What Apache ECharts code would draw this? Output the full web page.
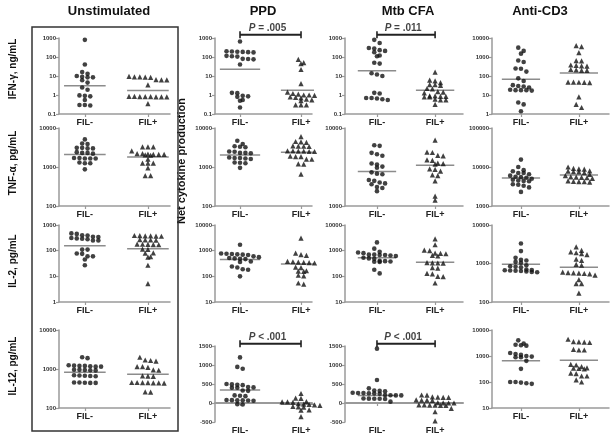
<!DOCTYPE html>
<html><head><meta charset="utf-8">
<script src="https://cdn.jsdelivr.net/npm/echarts@6/dist/echarts.min.js"></script>
<style>html,body{margin:0;padding:0;background:#fff}#c{width:614px;height:436px}</style>
</head><body><div id="c"></div>
<script>
// ---------- DATA ----------
const stimuli = ['Unstimulated', 'PPD', 'Mtb CFA', 'Anti-CD3'];
const cytokines = ['IFN-γ, ng/mL', 'TNF-α, pg/mL', 'IL-2, pg/mL', 'IL-12, pg/mL'];
const groups = ['FIL-', 'FIL+'];
const sideLabel = 'Net cytokine production';

// y-axis ranges per row (columns: Unstim, PPD, Mtb CFA, Anti-CD3)
const yRangeIfn = [[0.1, 1000], [0.1, 1000], [0.1, 1000], [1, 10000]];
const yRangeTnf = [[100, 10000], [100, 10000], [1000, 10000], [1000, 100000]];
const yRangeIl2 = [[1, 1000], [10, 10000], [10, 10000], [100, 10000]];
const yRangeIl12 = [[100, 10000], [-500, 1500], [-500, 1500], [10, 10000]];
const linearTicks = 500;

// IFN-γ
const ifnUnstimNeg = [800, 40, 16, 13, 10, 9, 8.5, 8.5, 6, 4.5, 2.5, 1.9, 0.95, 0.9, 0.85, 0.55, 0.3, 0.3, 0.28];
const ifnUnstimPos = [9.5, 9, 9, 8.8, 8.5, 6.5, 6.3, 6.2, 3.4, 0.85, 0.85, 0.83, 0.83, 0.82, 0.8, 0.8, 0.8, 0.35];
const ifnPpdNeg = [650, 200, 195, 190, 185, 180, 175, 115, 110, 105, 80, 78, 75, 40, 1.3, 1.25, 0.9, 0.85, 0.8, 0.55, 0.5, 0.22];
const ifnPpdPos = [75, 50, 45, 22, 4, 1.4, 1.2, 1.1, 1.0, 1.0, 0.95, 0.8, 0.75, 0.7, 0.6, 0.55, 0.5, 0.3, 0.3, 0.3];
const ifnMtbNeg = [800, 550, 300, 280, 230, 210, 180, 120, 110, 50, 45, 14, 12, 10, 1.3, 1.2, 0.7, 0.7, 0.65, 0.6, 0.55];
const ifnMtbPos = [16, 6, 5.5, 4.5, 3.5, 3.5, 3.2, 2.2, 2.1, 1.5, 1.4, 1.3, 0.9, 0.9, 0.85, 0.85, 0.8, 0.8, 0.6, 0.55, 0.55, 0.32];
const ifnCd3Neg = [3100, 2100, 1500, 650, 550, 250, 240, 170, 75, 55, 33, 30, 28, 25, 19, 18, 18, 18, 17, 4, 3.2, 1.4];
const ifnCd3Pos = [4000, 3500, 1700, 650, 620, 380, 360, 340, 330, 220, 210, 200, 200, 48, 48, 47, 46, 45, 8, 3.2, 2.2];
const ifnMedians = [[3.1, 1.7], [23, 1.8], [19, 1.77], [67, 145]];

// TNF-α
const tnfUnstimNeg = [5100, 4000, 3900, 3100, 3100, 3000, 3000, 2400, 2300, 2300, 2200, 1700, 1700, 1650, 1650, 1650, 1300, 1250, 1250, 870];
const tnfUnstimPos = [3300, 3300, 3300, 2600, 2200, 2200, 2150, 2100, 2100, 2100, 2050, 2000, 1600, 1250, 1250, 1250, 950, 600, 600];
const tnfPpdNeg = [4700, 3900, 3400, 3300, 3200, 2500, 2450, 2300, 2300, 2250, 1750, 1700, 1700, 1650, 1600, 1300, 1280, 1250, 950];
const tnfPpdPos = [6000, 4500, 4400, 4300, 3500, 3450, 3400, 3350, 2600, 2600, 2550, 2550, 2500, 2500, 1900, 1850, 1850, 1600, 1580, 1200, 1180, 660];
const tnfMtbNeg = [6000, 5900, 4800, 4600, 4400, 3500, 3400, 3200, 3100, 2700, 2600, 2550, 2150, 2100, 2000, 1950, 1900, 1750, 1700, 1550];
const tnfMtbPos = [7000, 4900, 4850, 4450, 4400, 3900, 3850, 3550, 3500, 3450, 3000, 2950, 2800, 2500, 2450, 2100, 1340, 1190];
const tnfCd3Neg = [15500, 10000, 8300, 7800, 7000, 7000, 6500, 6000, 5600, 5500, 5300, 5000, 4700, 4500, 4400, 4300, 3600, 3500, 3300, 3000, 2300];
const tnfCd3Pos = [10000, 9200, 9000, 8800, 8000, 7800, 7600, 7500, 7200, 6500, 6000, 5600, 5500, 5400, 5300, 5100, 4400, 4300, 4200, 4200, 4100];
const tnfMedians = [[2100, 1800], [2030, 2400], [2770, 3330], [5200, 6200]];

// IL-2
const il2UnstimNeg = [470, 450, 400, 390, 350, 340, 310, 300, 290, 280, 250, 250, 110, 110, 78, 75, 60, 60, 45, 27];
const il2UnstimPos = [390, 385, 380, 375, 370, 365, 270, 265, 260, 255, 180, 178, 175, 172, 170, 115, 112, 82, 80, 58, 56, 27, 5.2];
const il2PpdNeg = [1700, 780, 760, 740, 720, 700, 680, 600, 560, 520, 500, 480, 470, 380, 360, 240, 220, 190, 180, 100];
const il2PpdPos = [3100, 800, 700, 650, 380, 370, 360, 350, 340, 330, 230, 220, 165, 160, 155, 110, 105, 55, 50];
const il2MtbNeg = [2100, 1200, 900, 850, 800, 700, 700, 680, 680, 650, 620, 530, 500, 480, 400, 390, 380, 370, 360, 180, 130];
const il2MtbPos = [2900, 1700, 1050, 1000, 800, 780, 760, 650, 620, 340, 335, 330, 325, 220, 210, 130, 125, 100, 98, 55];
const il2Cd3Neg = [3300, 2100, 1400, 1250, 1200, 1100, 1050, 900, 850, 820, 800, 700, 680, 670, 660, 650, 640, 620, 600, 590];
const il2Cd3Pos = [2700, 2200, 2000, 1900, 1800, 1700, 1300, 1200, 950, 900, 600, 580, 570, 560, 550, 540, 500, 380, 300, 300, 170];
const il2Medians = [[157, 120], [450, 300], [530, 350], [960, 800]];

// IL-12
const il12UnstimNeg = [2000, 1900, 1250, 1220, 1200, 1200, 1180, 1150, 1150, 960, 950, 940, 930, 920, 690, 680, 670, 660, 650, 450, 450, 445, 440, 440];
const il12UnstimPos = [2000, 1700, 1650, 1600, 1150, 1150, 1100, 950, 930, 670, 660, 650, 450, 450, 445, 445, 440, 440, 435, 260, 255];
const il12PpdNeg = [1200, 950, 900, 500, 490, 480, 470, 420, 410, 400, 400, 330, 320, 200, 190, 180, 80, 75, 70, 70, 65, 60, -30, -40];
const il12PpdPos = [250, 130, 120, 40, 30, 30, 20, -20, -30, -40, -50, -60, -90, -100, -110, -180, -190, -360];
const il12MtbNeg = [1430, 605, 385, 330, 320, 310, 270, 265, 260, 255, 250, 245, 210, 205, 200, 200, 120, 115, 110, 110, 105, 35];
const il12MtbPos = [210, 205, 160, 155, 150, 150, 80, 75, 75, 70, 10, 5, 0, 0, -50, -50, -55, -55, -60, -60, -140, -230, -470];
const il12Cd3Neg = [4000, 3000, 2700, 2600, 2500, 1300, 1200, 1100, 1000, 950, 900, 900, 650, 320, 100, 100, 95, 90, 85];
const il12Cd3Pos = [4400, 3600, 3500, 3400, 3300, 1800, 1700, 1700, 480, 450, 390, 350, 340, 330, 320, 220, 210, 170, 170, 120, 100];
const il12Medians = [[820, 730], [340, -35], [200, 0], [660, 680]];

// significance annotations
const sigRows = [0, 0, 3, 3];
const sigCols = [1, 2, 1, 2];
const sigTexts = ['= .005', '= .011', '< .001', '< .001'];
const sigLevels = [1500, 1500, 1560, 1560];

// ---------- ASSEMBLY ----------
const panels = [
  [[ifnUnstimNeg, ifnUnstimPos], [ifnPpdNeg, ifnPpdPos], [ifnMtbNeg, ifnMtbPos], [ifnCd3Neg, ifnCd3Pos]],
  [[tnfUnstimNeg, tnfUnstimPos], [tnfPpdNeg, tnfPpdPos], [tnfMtbNeg, tnfMtbPos], [tnfCd3Neg, tnfCd3Pos]],
  [[il2UnstimNeg, il2UnstimPos], [il2PpdNeg, il2PpdPos], [il2MtbNeg, il2MtbPos], [il2Cd3Neg, il2Cd3Pos]],
  [[il12UnstimNeg, il12UnstimPos], [il12PpdNeg, il12PpdPos], [il12MtbNeg, il12MtbPos], [il12Cd3Neg, il12Cd3Pos]]
];
const medians = [ifnMedians, tnfMedians, il2Medians, il12Medians];
const yRanges = [yRangeIfn, yRangeTnf, yRangeIl2, yRangeIl12];

// layout (pixels)
const colX = [[59, 170], [215, 312], [345, 463], [492, 609]];
const xRange = [[0.59, 2.35], [0.59, 2.18], [0.45, 2.48], [0.5, 2.52]];
const rowY = [[38, 114], [128, 206], [225, 302], [330, 408]];
const linY = [346, 422];
const FONT = 'Arial, "Liberation Sans", Helvetica, sans-serif';
const AXIS_COLOR = '#9a9a9a';
const INK = '#111';

function isLinear(r, c) { return yRanges[r][c][0] <= 0; }

// GraphPad-style row placement of points
function spread(values, center, linear, pxPerY, pxPerX) {
  const f = linear ? (v => v) : (v => Math.log10(v));
  const pts = values.map(v => ({ v, p: f(v) * pxPerY })).sort((a, b) => b.p - a.p);
  const rows = [];
  let cur = null;
  pts.forEach(pt => {
    if (cur && cur.start - pt.p < 3.8) cur.items.push(pt);
    else { cur = { start: pt.p, items: [pt] }; rows.push(cur); }
  });
  const out = [];
  rows.forEach(row => {
    const n = row.items.length;
    row.items.forEach((pt, i) => out.push([center + (i - (n - 1) / 2) * 5.4 / pxPerX, pt.v]));
  });
  return out;
}

const grids = [], xAxes = [], yAxes = [], series = [];
for (let r = 0; r < 4; r++) {
  for (let c = 0; c < 4; c++) {
    const gi = r * 4 + c;
    const lin = isLinear(r, c);
    const [y0, y1] = (r === 3 && lin) ? linY : rowY[r];
    const [x0, x1] = colX[c];
    grids.push({ left: x0, top: y0, width: x1 - x0, height: y1 - y0, containLabel: false, outerBoundsMode: 'none' });
    const [ymin, ymax] = yRanges[r][c];
    xAxes.push({
      type: 'value', gridIndex: gi, min: xRange[c][0], max: xRange[c][1],
      axisLine: { onZero: lin, lineStyle: { color: AXIS_COLOR, width: lin ? 2 : 1.5 } },
      axisTick: { show: true, customValues: [1, 2], length: 3, lineStyle: { color: AXIS_COLOR, width: 1.2 } },
      axisLabel: { customValues: [1, 2], formatter: v => groups[Math.round(v) - 1] || '', fontSize: 9, fontWeight: 'bold', color: '#222', fontFamily: FONT, margin: 4 },
      splitLine: { show: false }
    });
    const ya = {
      type: lin ? 'value' : 'log', gridIndex: gi, min: ymin, max: ymax,
      axisLine: { show: true, onZero: false, lineStyle: { color: AXIS_COLOR, width: 1.5 } },
      axisTick: { show: true, length: 3, lineStyle: { color: AXIS_COLOR, width: 1.2 } },
      axisLabel: { fontSize: 6, fontWeight: 'bold', color: '#333', fontFamily: FONT, margin: 3, formatter: v => String(+Number(v).toPrecision(6)) },
      splitLine: { show: false }, minorTick: { show: false }
    };
    if (lin) ya.interval = linearTicks; else ya.logBase = 10;
    yAxes.push(ya);

    const pxPerX = (x1 - x0) / (xRange[c][1] - xRange[c][0]);
    const pxPerY = (y1 - y0) / (lin ? (ymax - ymin) : (Math.log10(ymax) - Math.log10(ymin)));
    [0, 1].forEach(g => {
      const center = g + 1;
      series.push({
        type: 'line', xAxisIndex: gi, yAxisIndex: gi, silent: true, symbol: 'none', z: 2,
        lineStyle: { color: '#8c8c8c', width: 1.5 },
        data: [[center - 0.33, medians[r][c][g]], [center + 0.33, medians[r][c][g]]]
      });
      series.push({
        type: 'scatter', xAxisIndex: gi, yAxisIndex: gi, z: 3, clip: false,
        symbol: g === 0 ? 'circle' : 'triangle', symbolSize: g === 0 ? 4.6 : 5.2,
        itemStyle: { color: INK },
        data: spread(panels[r][c][g], center, lin, pxPerY, pxPerX)
      });
    });
  }
}

// significance brackets
for (let k = 0; k < sigTexts.length; k++) {
  const gi = sigRows[k] * 4 + sigCols[k];
  series.push({
    type: 'line', xAxisIndex: gi, yAxisIndex: gi, clip: false, silent: true, z: 4,
    symbol: 'rect', symbolSize: [1.6, 7], showAllSymbol: true,
    itemStyle: { color: '#222' }, lineStyle: { color: '#222', width: 2 },
    data: [[1, sigLevels[k]], [2, sigLevels[k]]]
  });
  series.push({
    type: 'scatter', xAxisIndex: gi, yAxisIndex: gi, clip: false, silent: true, z: 4,
    symbolSize: 0, data: [[1.45, sigLevels[k]]],
    label: {
      show: true, position: 'top', distance: 1,
      formatter: '{i|P} ' + sigTexts[k],
      fontSize: 10, fontWeight: 'bold', color: '#111', fontFamily: FONT,
      rich: { i: { fontStyle: 'italic', fontWeight: 'bold', fontSize: 10, fontFamily: FONT, color: '#111' } }
    }
  });
}

const titleX = [109, 263, 408, 540];
const rowLabelY = [69, 163, 261, 366];
const graphic = [];
stimuli.forEach((t, i) => graphic.push({
  type: 'text', x: titleX[i], y: 11.5,
  style: { text: t, font: 'bold 13px ' + FONT, fill: '#111', textAlign: 'center', textVerticalAlign: 'middle' }
}));
cytokines.forEach((t, i) => graphic.push({
  type: 'text', x: 13, y: rowLabelY[i], rotation: Math.PI / 2,
  style: { text: t, font: 'bold 10px ' + FONT, fill: '#111', textAlign: 'center', textVerticalAlign: 'middle' }
}));
graphic.push({
  type: 'text', x: 182, y: 161, rotation: Math.PI / 2,
  style: { text: sideLabel, font: 'bold 11px ' + FONT, fill: '#111', textAlign: 'center', textVerticalAlign: 'middle' }
});
graphic.push({
  type: 'rect', shape: { x: 32, y: 27, width: 146, height: 404 },
  style: { fill: 'none', stroke: '#333', lineWidth: 1.5 }
});

const chart = echarts.init(document.getElementById('c'), null, { renderer: 'canvas' });
chart.setOption({
  animation: false, backgroundColor: '#fff',
  grid: grids, xAxis: xAxes, yAxis: yAxes, series, graphic
});
</script></body></html>
